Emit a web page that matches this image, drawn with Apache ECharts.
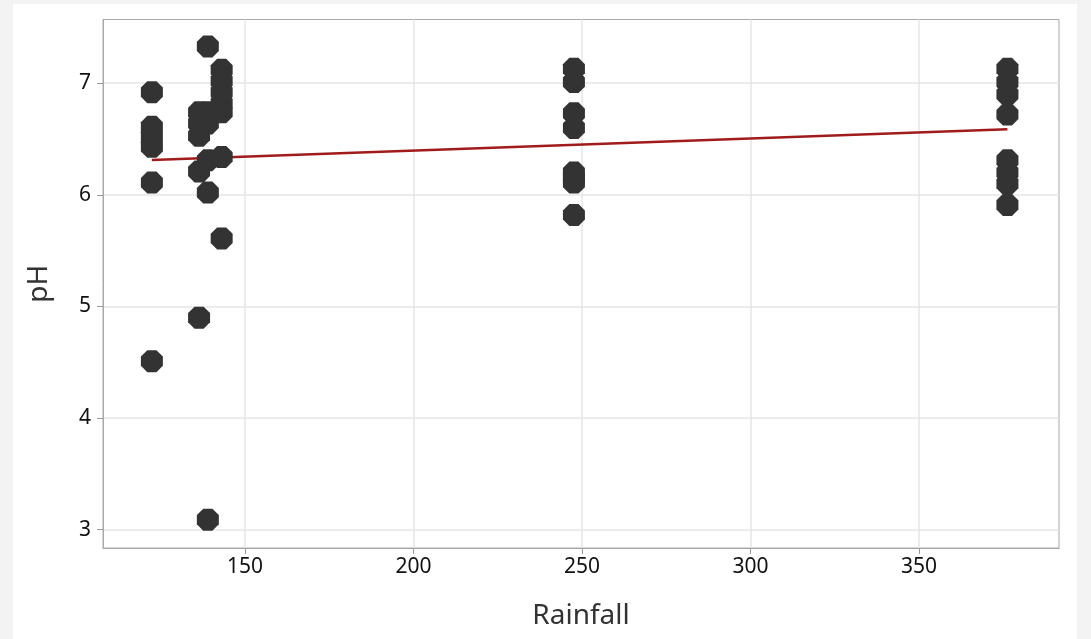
<!DOCTYPE html>
<html><head><meta charset="utf-8">
<script src="https://cdn.jsdelivr.net/npm/echarts@6/dist/echarts.min.js"></script>
<style>
html,body{margin:0;padding:0;background:#f3f3f3;width:1091px;height:639px;overflow:hidden}
#panel{position:absolute;left:13px;top:4px;width:1064px;height:635px;background:#fff}
#chart{width:100%;height:100%}
</style></head>
<body><div id="panel"><div id="chart"></div></div>
<script>
const rainfall = [
  122.4,122.4,122.4,122.4,122.4,122.4,
  136.4,136.4,136.4,136.4,136.4,
  139,139,139,139,139,139,
  143.1,143.1,143.1,143.1,143.1,143.1,143.1,
  247.6,247.6,247.6,247.6,247.6,247.6,247.6,247.6,
  376.2,376.2,376.2,376.2,376.2,376.2,376.2,376.2
];
const ph = [
  6.92,6.61,6.52,6.43,6.11,4.51,
  6.74,6.64,6.53,6.21,4.90,
  7.33,6.74,6.64,6.31,6.02,3.09,
  7.12,7.02,6.92,6.82,6.74,6.34,5.61,
  7.13,7.01,6.73,6.60,6.20,6.15,6.11,5.82,
  7.13,7.01,6.90,6.72,6.31,6.20,6.10,5.91
];
// Fitted line end points
const fitRainfall = [122.4, 376.2];
const fitPh = [6.313, 6.588];
const xTickValues = [150, 200, 250, 300, 350];
const yTickValues = [3, 4, 5, 6, 7];

const points = rainfall.map((r, i) => [r, ph[i]]);
const fitLine = fitRainfall.map((r, i) => [r, fitPh[i]]);
const octagon = 'path://M-0.383,-0.924L0.383,-0.924L0.924,-0.383L0.924,0.383L0.383,0.924L-0.383,0.924L-0.924,0.383L-0.924,-0.383Z';
const font = '"Noto Sans", "Open Sans", sans-serif';

const chart = echarts.init(document.getElementById('chart'), null, {renderer: 'canvas'});
chart.setOption({
  animation: false,
  backgroundColor: '#ffffff',
  grid: {left: 90, top: 15.5, right: 18, bottom: 91, show: true, borderColor: '#a8a8a8', borderWidth: 1, containLabel: false},
  xAxis: {
    type: 'value', min: 107.9, max: 391.5,
    name: 'Rainfall', nameLocation: 'middle', nameGap: 54,
    nameTextStyle: {fontSize: 28, color: '#333', fontFamily: font},
    axisLine: {show: true, lineStyle: {color: '#a8a8a8', width: 1}},
    axisTick: {show: true, length: 6, lineStyle: {color: '#999', width: 1}, customValues: xTickValues},
    axisLabel: {fontSize: 21, color: '#111', fontFamily: font, margin: 9, customValues: xTickValues},
    splitLine: {show: true, lineStyle: {color: '#e6e6e6', width: 1.5}}
  },
  yAxis: {
    type: 'value', min: 2.836, max: 7.571,
    name: 'pH', nameLocation: 'middle', nameGap: 50, nameRotate: 90,
    nameTextStyle: {fontSize: 28, color: '#333', fontFamily: font},
    axisLine: {show: true, lineStyle: {color: '#a8a8a8', width: 1}},
    axisTick: {show: true, length: 6, lineStyle: {color: '#999', width: 1}, customValues: yTickValues},
    axisLabel: {fontSize: 21, color: '#111', fontFamily: font, margin: 12, customValues: yTickValues},
    splitLine: {show: true, lineStyle: {color: '#e6e6e6', width: 1.5}}
  },
  series: [
    {type: 'line', data: fitLine, symbol: 'none', z: 2,
     lineStyle: {color: '#a01b1b', width: 2.5}},
    {type: 'scatter', data: points, symbol: octagon, symbolSize: 22, z: 3,
     itemStyle: {color: '#333333', opacity: 1}}
  ]
});
</script>
</body></html>
